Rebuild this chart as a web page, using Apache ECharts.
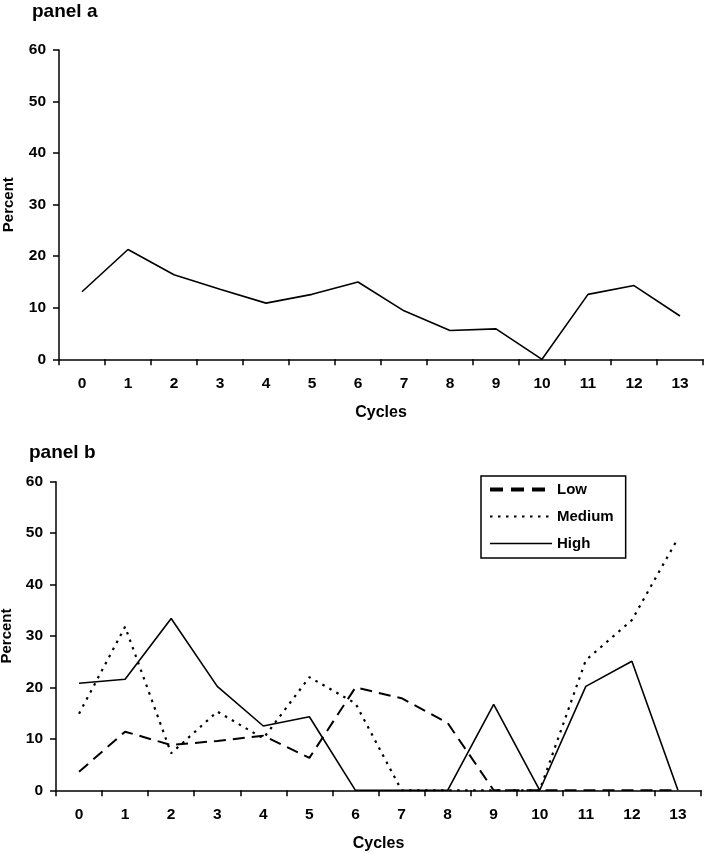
<!DOCTYPE html>
<html>
<head>
<meta charset="utf-8">
<script src="https://cdn.jsdelivr.net/npm/echarts@6/dist/echarts.min.js"></script>
<style>
html,body{margin:0;padding:0;background:#fff;}
#c{width:706px;height:853px;}
</style>
</head>
<body>
<div id="c"></div>
<script>
const cycles = ['0','1','2','3','4','5','6','7','8','9','10','11','12','13'];
const yTicks = [0, 10, 20, 30, 40, 50, 60];
const panelA = [13.1, 21.3, 16.4, 13.6, 10.9, 12.6, 15.0, 9.4, 5.6, 5.9, 0, 12.6, 14.3, 8.4];
const lowB = [3.6, 11.4, 8.8, 9.6, 10.6, 6.3, 20.0, 17.9, 13.1, 0, 0, 0, 0, 0];
const mediumB = [14.9, 31.8, 7.2, 15.3, 10.1, 22.0, 16.9, 0, 0, 0, 0, 25.3, 33.1, 49.0];
const highB = [20.8, 21.6, 33.4, 20.2, 12.5, 14.3, 0, 0, 0, 16.7, 0, 20.2, 25.1, 0];

const FONT = '"Liberation Sans", Arial, sans-serif';
const chart = echarts.init(document.getElementById('c'), null, {renderer: 'canvas'});

function xAxis(gridIndex) {
  return {
    type: 'category', gridIndex: gridIndex, data: cycles, boundaryGap: true,
    name: 'Cycles', nameLocation: 'middle', nameGap: 45,
    nameTextStyle: {fontFamily: FONT, fontWeight: 'bold', fontSize: 16, color: '#000'},
    axisLine: {lineStyle: {color: '#000', width: 1.5}},
    axisTick: {show: true, length: 6, lineStyle: {color: '#000', width: 1.5}},
    axisLabel: {fontFamily: FONT, fontWeight: 'bold', fontSize: 15.5, color: '#000', margin: 16},
    splitLine: {show: false}
  };
}
function yAxis(gridIndex, gap) {
  return {
    type: 'value', gridIndex: gridIndex, min: yTicks[0], max: yTicks[yTicks.length - 1], interval: 10,
    name: 'Percent', nameLocation: 'middle', nameGap: gap,
    nameTextStyle: {fontFamily: FONT, fontWeight: 'bold', fontSize: 15, color: '#000'},
    axisLine: {show: true, lineStyle: {color: '#000', width: 1.5}},
    axisTick: {show: true, length: 6, lineStyle: {color: '#000', width: 1.5}},
    axisLabel: {fontFamily: FONT, fontWeight: 'bold', fontSize: 15.5, color: '#000', margin: 13},
    splitLine: {show: false}
  };
}

const option = {
  backgroundColor: '#fff',
  animation: false,
  title: [
    {text: 'panel a', left: 27, top: -3, textStyle: {fontFamily: FONT, fontWeight: 'bold', fontSize: 19, color: '#000'}},
    {text: 'panel b', left: 24, top: 438, textStyle: {fontFamily: FONT, fontWeight: 'bold', fontSize: 19, color: '#000'}}
  ],
  grid: [
    {left: 59, right: 3, top: 50, bottom: 493.7, outerBoundsMode: 'none', containLabel: false},
    {left: 56, right: 5, top: 481.7, bottom: 62.7, outerBoundsMode: 'none', containLabel: false}
  ],
  xAxis: [xAxis(0), xAxis(1)],
  yAxis: [yAxis(0, 43), yAxis(1, 40)],
  legend: {
    orient: 'vertical', left: 481, top: 476,
    padding: [6, 12, 7, 7], itemGap: 12, itemWidth: 62, itemHeight: 14, itemTextGap: 4,
    borderColor: '#000', borderWidth: 1.5, backgroundColor: '#fff',
    itemStyle: {opacity: 0},
    textStyle: {fontFamily: FONT, fontWeight: 'bold', fontSize: 15, color: '#000'},
    data: [
      {name: 'Low', lineStyle: {width: 4, type: [13, 8], color: '#000'}},
      {name: 'Medium', lineStyle: {width: 1.8, type: [2.5, 5.5], color: '#000'}},
      {name: 'High', lineStyle: {width: 1.5, type: 'solid', color: '#000'}}
    ]
  },
  series: [
    {name: 'Panel a', type: 'line', xAxisIndex: 0, yAxisIndex: 0, data: panelA, symbol: 'none',
     lineStyle: {color: '#000', width: 1.6}, itemStyle: {color: '#000'}},
    {name: 'Low', type: 'line', xAxisIndex: 1, yAxisIndex: 1, data: lowB, symbol: 'none',
     lineStyle: {color: '#000', width: 2, type: [12, 7]}, itemStyle: {color: '#000'}},
    {name: 'Medium', type: 'line', xAxisIndex: 1, yAxisIndex: 1, data: mediumB, symbol: 'none',
     lineStyle: {color: '#000', width: 2.2, type: [2.5, 5.5]}, itemStyle: {color: '#000'}},
    {name: 'High', type: 'line', xAxisIndex: 1, yAxisIndex: 1, data: highB, symbol: 'none',
     lineStyle: {color: '#000', width: 1.6}, itemStyle: {color: '#000'}}
  ]
};
chart.setOption(option);
</script>
</body>
</html>
